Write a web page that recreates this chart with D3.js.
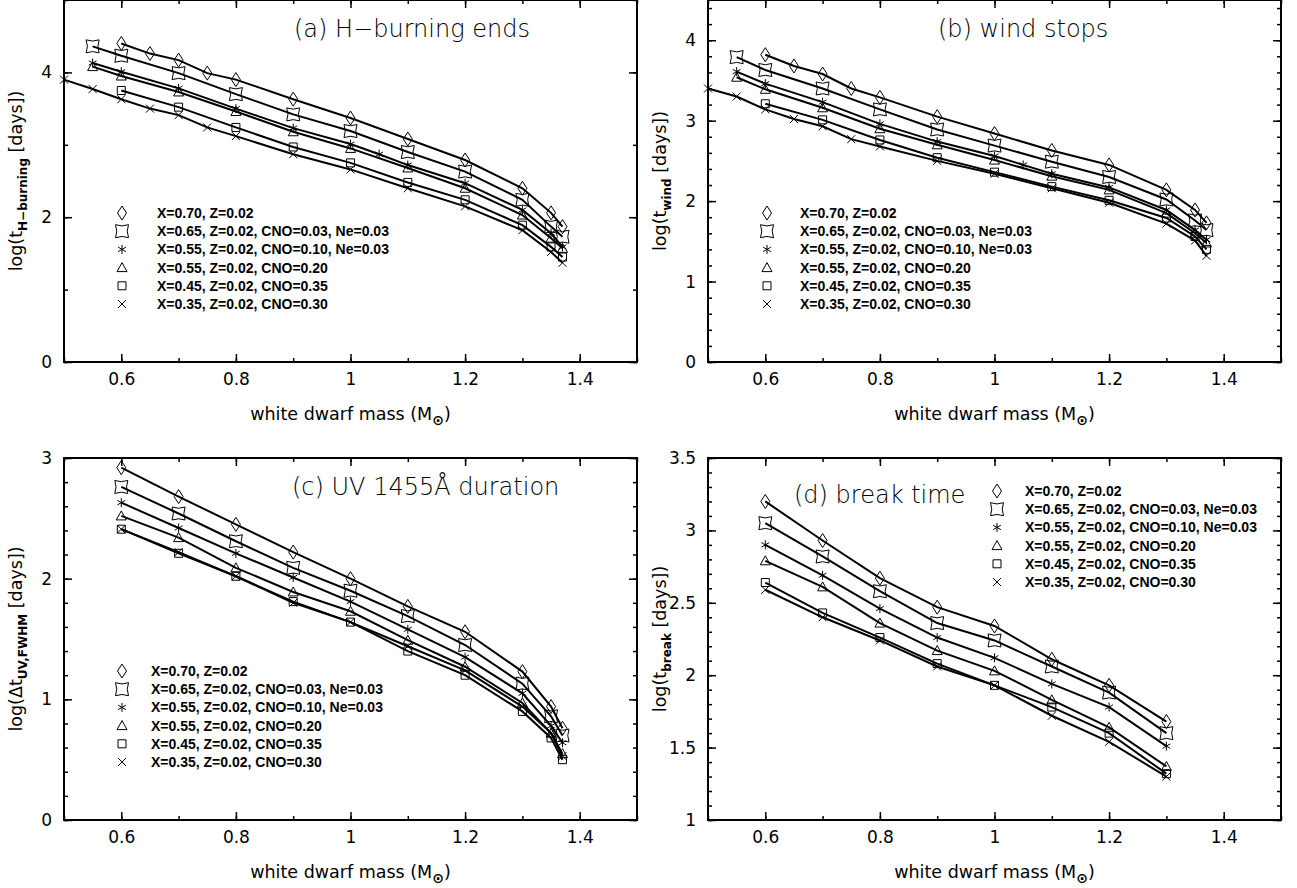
<!DOCTYPE html>
<html>
<head>
<meta charset="utf-8">
<script src="https://cdn.jsdelivr.net/npm/d3@7"></script>
<style>
  body { margin: 0; background: #fff; }
  svg { display: block; }
  text { font-family: "DejaVu Sans", sans-serif; fill: #000; }
</style>
</head>
<body>
<svg width="1297" height="888"></svg>
<script>
// mass grids (solar masses)
var massDia   = [0.6, 0.65, 0.7, 0.75, 0.8, 0.9, 1.0, 1.1, 1.2, 1.3, 1.35, 1.37];
var massSqs   = [0.55, 0.6, 0.7, 0.8, 0.9, 1.0, 1.1, 1.2, 1.3, 1.35, 1.37];
var massStar  = [0.55, 0.6, 0.7, 0.8, 0.9, 1.0, 1.05, 1.1, 1.2, 1.3, 1.35, 1.37];
var massBox   = [0.6, 0.7, 0.8, 0.9, 1.0, 1.1, 1.2, 1.3, 1.35, 1.37];
var massCross = [0.5, 0.55, 0.6, 0.65, 0.7, 0.75, 0.8, 0.9, 1.0, 1.1, 1.2, 1.3, 1.35, 1.37];
var massBreak = [0.6, 0.7, 0.8, 0.9, 1.0, 1.1, 1.2, 1.3];

// (a) log t_H-burning
var hDia   = [4.40, 4.26, 4.17, 3.99, 3.90, 3.63, 3.37, 3.08, 2.79, 2.40, 2.06, 1.87];
var hSqs   = [4.36, 4.23, 3.99, 3.70, 3.42, 3.19, 2.90, 2.63, 2.24, 1.87, 1.73];
var hStar  = [4.13, 4.01, 3.78, 3.50, 3.23, 3.01, 2.87, 2.72, 2.47, 2.10, 1.78, 1.59];
var hTri   = [4.08, 3.95, 3.73, 3.46, 3.18, 2.95, 2.68, 2.40, 2.03, 1.71, 1.57];
var hBox   = [3.75, 3.52, 3.24, 2.97, 2.75, 2.48, 2.24, 1.89, 1.59, 1.45];
var hCross = [3.90, 3.77, 3.63, 3.50, 3.41, 3.24, 3.12, 2.87, 2.66, 2.40, 2.15, 1.82, 1.52, 1.37];

// (b) log t_wind
var wDia   = [3.82, 3.68, 3.58, 3.40, 3.29, 3.05, 2.84, 2.63, 2.45, 2.14, 1.89, 1.73];
var wSqs   = [3.79, 3.63, 3.40, 3.14, 2.89, 2.69, 2.49, 2.30, 2.02, 1.76, 1.64];
var wStar  = [3.61, 3.46, 3.23, 2.96, 2.74, 2.56, 2.45, 2.34, 2.17, 1.89, 1.64, 1.52];
var wTri   = [3.54, 3.39, 3.16, 2.90, 2.70, 2.51, 2.31, 2.14, 1.85, 1.60, 1.48];
var wBox   = [3.21, 3.01, 2.76, 2.54, 2.36, 2.18, 2.01, 1.79, 1.56, 1.40];
var wCross = [3.40, 3.30, 3.14, 3.02, 2.93, 2.77, 2.68, 2.50, 2.34, 2.16, 1.98, 1.72, 1.51, 1.32];

// (c) log dt_UV,FWHM
var uDia   = [2.92, 2.68, 2.45, 2.22, 2.00, 1.77, 1.56, 1.23, 0.94, 0.76];
var uSqs   = [2.76, 2.54, 2.31, 2.09, 1.90, 1.69, 1.45, 1.13, 0.86, 0.70];
var uStar  = [2.63, 2.42, 2.21, 2.01, 1.81, 1.58, 1.35, 1.05, 0.78, 0.64];
var uTri   = [2.52, 2.34, 2.09, 1.89, 1.73, 1.49, 1.27, 0.97, 0.72, 0.55];
var uBox   = [2.41, 2.21, 2.02, 1.81, 1.64, 1.40, 1.20, 0.90, 0.68, 0.50];
var uCross = [2.41, 2.22, 2.02, 1.80, 1.64, 1.44, 1.24, 0.94, 0.72, 0.53];

// (d) log t_break
var bDia   = [3.20, 2.93, 2.67, 2.47, 2.34, 2.11, 1.93, 1.68];
var bSqs   = [3.05, 2.82, 2.58, 2.36, 2.24, 2.06, 1.88, 1.60];
var bStar  = [2.90, 2.69, 2.46, 2.26, 2.12, 1.94, 1.78, 1.51];
var bTri   = [2.79, 2.61, 2.36, 2.17, 2.03, 1.83, 1.64, 1.37];
var bBox   = [2.64, 2.43, 2.26, 2.08, 1.93, 1.78, 1.60, 1.32];
var bCross = [2.59, 2.40, 2.24, 2.06, 1.93, 1.72, 1.54, 1.30];

var legendLabels = [
  "X=0.70, Z=0.02",
  "X=0.65, Z=0.02, CNO=0.03, Ne=0.03",
  "X=0.55, Z=0.02, CNO=0.10, Ne=0.03",
  "X=0.55, Z=0.02, CNO=0.20",
  "X=0.45, Z=0.02, CNO=0.35",
  "X=0.35, Z=0.02, CNO=0.30"
];
var symbolNames = ["diamond", "sqstar", "star", "triangle", "square", "cross"];
var xTickLabels = [0.6, 0.8, 1, 1.2, 1.4];

var svg = d3.select("svg");

function symbolPath(name) {
  var p = d3.path();
  if (name === "diamond") {
    p.moveTo(0, -7); p.lineTo(4.5, 0); p.lineTo(0, 7); p.lineTo(-4.5, 0); p.closePath();
  } else if (name === "sqstar") {
    var s = 6.5;
    p.moveTo(-s, -s); p.quadraticCurveTo(0, -s + 2.5, s, -s);
    p.quadraticCurveTo(s - 2.5, 0, s, s);
    p.quadraticCurveTo(0, s - 2.5, -s, s);
    p.quadraticCurveTo(-s + 2.5, 0, -s, -s);
    p.closePath();
  } else if (name === "star") {
    for (var i = 0; i < 3; i++) {
      var a = Math.PI / 2 + i * Math.PI / 3;
      p.moveTo(4.5 * Math.cos(a), 4.5 * Math.sin(a));
      p.lineTo(-4.5 * Math.cos(a), -4.5 * Math.sin(a));
    }
  } else if (name === "triangle") {
    p.moveTo(0, -5); p.lineTo(5, 4); p.lineTo(-5, 4); p.closePath();
  } else if (name === "square") {
    p.rect(-4, -4, 8, 8);
  } else if (name === "cross") {
    p.moveTo(-4, -4); p.lineTo(4, 4); p.moveTo(4, -4); p.lineTo(-4, 4);
  }
  return p.toString();
}

var panels = [
  { left: 64, top: 0, yDomain: [0, 5], yMajor: [0, 2, 4], yMinor: d3.range(0, 5.01, 1),
    title: "(a) H\u2212burning ends", titleX: 294, titleY: 37,
    ySub: "H\u2212burning", yPre: "log(t",
    series: [[massDia, hDia], [massSqs, hSqs], [massStar, hStar], [massSqs, hTri], [massBox, hBox], [massCross, hCross]],
    legX: 122, legTextX: 157, legY: 213 },
  { left: 708, top: 0, yDomain: [0, 4.5], yMajor: [0, 1, 2, 3, 4], yMinor: d3.range(0, 4.51, 0.2),
    title: "(b) wind stops", titleX: 938, titleY: 37,
    ySub: "wind", yPre: "log(t",
    series: [[massDia, wDia], [massSqs, wSqs], [massStar, wStar], [massSqs, wTri], [massBox, wBox], [massCross, wCross]],
    legX: 767, legTextX: 800, legY: 213 },
  { left: 64, top: 458, yDomain: [0, 3], yMajor: [0, 1, 2, 3], yMinor: d3.range(0, 3.01, 0.2),
    title: "(c) UV 1455\u00c5 duration", titleX: 292, titleY: 495,
    ySub: "UV,FWHM", yPre: "log(\u0394t",
    series: [[massBox, uDia], [massBox, uSqs], [massBox, uStar], [massBox, uTri], [massBox, uBox], [massBox, uCross]],
    legX: 122, legTextX: 151, legY: 671 },
  { left: 708, top: 458, yDomain: [1, 3.5], yMajor: [1, 1.5, 2, 2.5, 3, 3.5], yMinor: d3.range(1, 3.51, 0.1),
    title: "(d) break time", titleX: 794, titleY: 503,
    ySub: "break", yPre: "log(t",
    series: [[massBreak, bDia], [massBreak, bSqs], [massBreak, bStar], [massBreak, bTri], [massBreak, bBox], [massBreak, bCross]],
    legX: 997, legTextX: 1025, legY: 491 }
];

var W = 573, H = 362;

panels.forEach(function(pn) {
  var g = svg.append("g").attr("transform", "translate(" + pn.left + "," + pn.top + ")");
  var x = d3.scaleLinear().domain([0.5, 1.5]).range([0, W]);
  var y = d3.scaleLinear().domain(pn.yDomain).range([H, 0]);

  var xMinor = d3.range(0.5, 1.51, 0.1);

  // minor ticks
  function minor(axis, vals) {
    return axis.tickValues(vals).tickSize(-4).tickFormat("");
  }
  g.append("g").attr("transform", "translate(0," + H + ")").call(minor(d3.axisBottom(x), xMinor));
  g.append("g").call(minor(d3.axisTop(x), xMinor));
  g.append("g").call(minor(d3.axisLeft(y), pn.yMinor));
  g.append("g").attr("transform", "translate(" + W + ",0)").call(minor(d3.axisRight(y), pn.yMinor));

  // major ticks
  g.append("g").attr("transform", "translate(0," + H + ")")
    .call(d3.axisBottom(x).tickValues(xTickLabels).tickSize(-8).tickPadding(11).tickFormat(d3.format("")));
  g.append("g").call(d3.axisTop(x).tickValues(xTickLabels).tickSize(-8).tickFormat(""));
  g.append("g")
    .call(d3.axisLeft(y).tickValues(pn.yMajor).tickSize(-8).tickPadding(12).tickFormat(d3.format("")));
  g.append("g").attr("transform", "translate(" + W + ",0)")
    .call(d3.axisRight(y).tickValues(pn.yMajor).tickSize(-8).tickFormat(""));

  g.selectAll(".domain").remove();
  g.selectAll(".tick line").attr("stroke", "#000").attr("stroke-width", 1.5);
  g.selectAll(".tick text").style("font-size", "17px").style("font-family", "DejaVu Sans, sans-serif").attr("fill", "#000");

  g.append("rect").attr("width", W).attr("height", H)
    .attr("fill", "none").attr("stroke", "#000").attr("stroke-width", 2);

  // lines and markers
  var line = d3.line().x(function(d) { return x(d[0]); }).y(function(d) { return y(d[1]); });
  pn.series.forEach(function(s, i) {
    var pts = s[0].map(function(m, j) { return [m, s[1][j]]; });
    g.append("path").datum(pts).attr("d", line)
      .attr("fill", "none").attr("stroke", "#000").attr("stroke-width", 2);
    g.selectAll(".m" + i).data(pts).enter().append("path")
      .attr("transform", function(d) { return "translate(" + x(d[0]) + "," + y(d[1]) + ")"; })
      .attr("d", symbolPath(symbolNames[i]))
      .attr("fill", "none").attr("stroke", "#000").attr("stroke-width", 1);
  });

  // legend
  legendLabels.forEach(function(lab, i) {
    var ly = pn.legY + i * 18.2;
    svg.append("path").attr("transform", "translate(" + pn.legX + "," + ly + ")")
      .attr("d", symbolPath(symbolNames[i]))
      .attr("fill", "none").attr("stroke", "#000").attr("stroke-width", 1);
    svg.append("text").attr("x", pn.legTextX).attr("y", ly + 5)
      .style("font-family", "'Liberation Sans', Arial, sans-serif")
      .style("font-size", "14px").style("font-weight", "bold").text(lab);
  });

  // title
  svg.append("text").attr("x", pn.titleX).attr("y", pn.titleY)
    .style("font-size", "24px").style("font-weight", "300").text(pn.title);

  // x label
  var xl = svg.append("text").attr("x", pn.left + W / 2).attr("y", pn.top + H + 58)
    .attr("text-anchor", "middle").style("font-size", "17.5px");
  xl.append("tspan").text("white dwarf mass (M");
  xl.append("tspan").attr("dy", 5).style("font-size", "14px").style("font-weight", "bold").text("\u2299");
  xl.append("tspan").attr("dy", -5).text(")");

  // y label
  var yl = svg.append("text")
    .attr("transform", "translate(" + (pn.left - 42) + "," + (pn.top + H / 2) + ") rotate(-90)")
    .attr("text-anchor", "middle").style("font-size", "17.5px");
  yl.append("tspan").text(pn.yPre);
  yl.append("tspan").attr("dy", 5).style("font-size", "12px").style("font-weight", "bold").text(pn.ySub);
  yl.append("tspan").attr("dy", -5).text(" [days])");
});
</script>
</body>
</html>
